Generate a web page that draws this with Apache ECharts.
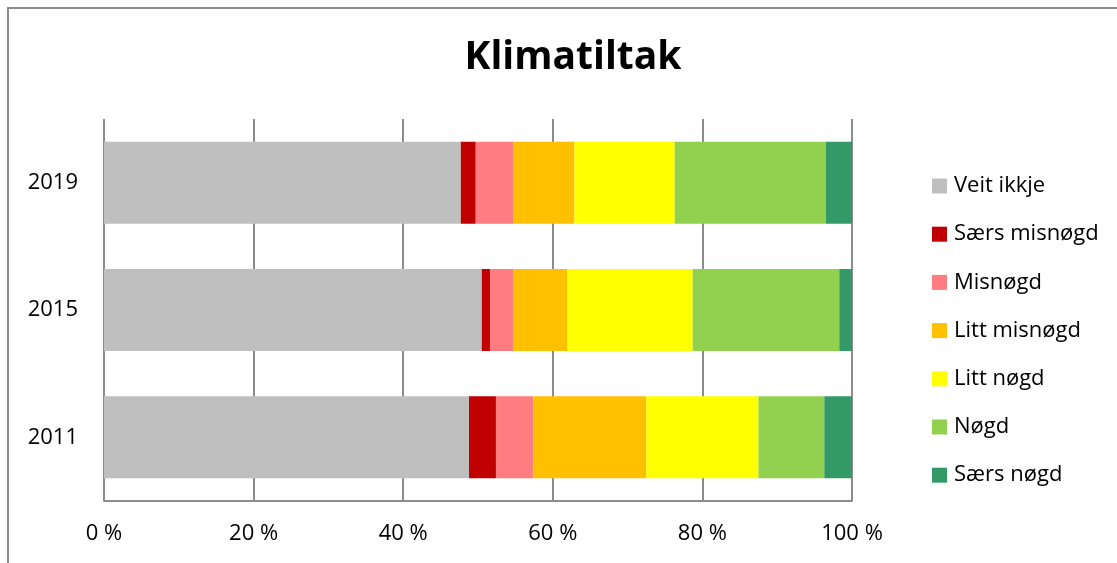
<!DOCTYPE html>
<html>
<head>
<meta charset="utf-8">
<script src="https://cdn.jsdelivr.net/npm/echarts@6/dist/echarts.min.js"></script>
<style>
html,body{margin:0;padding:0;background:#fff;}
#chart{width:1117px;height:563px;}
</style>
</head>
<body>
<div id="chart"></div>
<script>
const years = ['2011', '2015', '2019'];
const seriesNames = ['Veit ikkje', 'Særs misnøgd', 'Misnøgd', 'Litt misnøgd', 'Litt nøgd', 'Nøgd', 'Særs nøgd'];
const veitIkkje   = [48.8, 50.5, 47.7];
const saersMisnoegd = [3.6, 1.1, 2.0];
const misnoegd    = [5.0, 3.1, 5.0];
const littMisnoegd = [15.1, 7.2, 8.2];
const littNoegd   = [15.0, 16.8, 13.4];
const noegd       = [8.8, 19.6, 20.2];
const saersNoegd  = [3.7, 1.7, 3.5];
const xTicks = [0, 20, 40, 60, 80, 100];
const colors = ['#BFBFBF', '#C00000', '#FF7C80', '#FFC000', '#FFFF00', '#92D050', '#339966'];

const values = [veitIkkje, saersMisnoegd, misnoegd, littMisnoegd, littNoegd, noegd, saersNoegd];
const FONT = '"Open Sans", sans-serif';

const chart = echarts.init(document.getElementById('chart'));
chart.setOption({
  animation: false,
  title: {
    text: 'Klimatiltak',
    left: 568, top: 33, textAlign: 'center',
    textStyle: { fontSize: 39, fontWeight: 'bold', color: '#000', fontFamily: FONT }
  },
  graphic: [{
    type: 'rect', shape: { x: 8, y: 8, width: 1300, height: 700 },
    style: { fill: 'none', stroke: '#8c8c8c', lineWidth: 2 }, silent: true, z: -1
  }],
  legend: {
    orient: 'vertical', left: 927, top: 170, itemGap: 26.2,
    itemWidth: 15, itemHeight: 15, icon: 'rect',
    textStyle: { fontSize: 22, color: '#000', fontFamily: FONT, padding: [0, 0, 0, 2] },
    data: seriesNames
  },
  grid: { left: 104, right: 265, top: 119, bottom: 62, containLabel: false },
  xAxis: {
    type: 'value', min: 0, max: 100, interval: 20,
    axisLine: { show: true, lineStyle: { color: '#8c8c8c', width: 2 } },
    axisTick: { show: false },
    splitLine: { show: true, lineStyle: { color: '#8c8c8c', width: 2 } },
    axisLabel: {
      margin: 22, fontSize: 22, color: '#000', fontFamily: FONT,
      formatter: v => xTicks.includes(v) ? v + ' %' : ''
    }
  },
  yAxis: {
    type: 'category', data: years,
    axisLine: { show: false }, axisTick: { show: false },
    axisLabel: { margin: 26, fontSize: 22, color: '#000', fontFamily: FONT }
  },
  series: seriesNames.map((n, i) => ({
    name: n, type: 'bar', stack: 'total', data: values[i],
    barWidth: 82,
    itemStyle: { color: colors[i] }
  }))
});
</script>
</body>
</html>
